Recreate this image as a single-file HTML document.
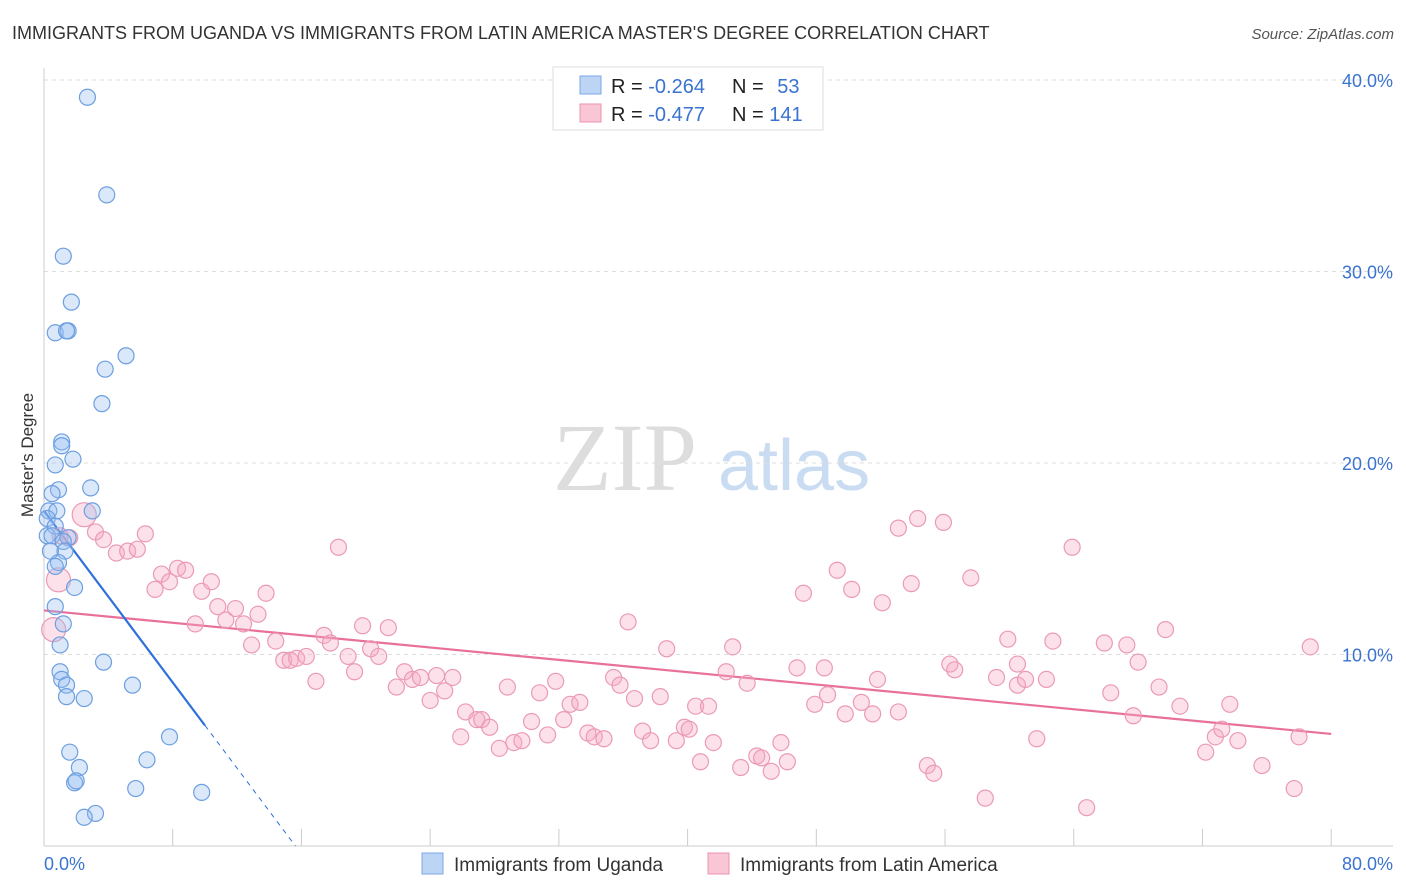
<!DOCTYPE html>
<html><head><meta charset="utf-8"><style>
body{margin:0;background:#fff;font-family:"Liberation Sans",sans-serif;}
svg{display:block}
</style></head><body>
<svg id="chart" width="1406" height="892">
<text x="12" y="39" font-size="18" fill="#333">IMMIGRANTS FROM UGANDA VS IMMIGRANTS FROM LATIN AMERICA MASTER'S DEGREE CORRELATION CHART</text>
<text x="1394" y="39" font-size="15" fill="#555" font-style="italic" text-anchor="end">Source: ZipAtlas.com</text>
<g>
<text x="553" y="490" font-size="96" fill="#ddd" font-family="Liberation Serif,serif">ZIP</text>
<text x="718" y="490" font-size="72" fill="#c9dcf2">atlas</text>
</g>
<text transform="translate(33,455) rotate(-90)" font-size="17" fill="#333" text-anchor="middle">Master's Degree</text>
<g id="grid"></g><g id="ticks"></g><g id="lines"></g><g id="pts"></g>
<g>
<rect x="553" y="67" width="270" height="63" fill="#fff" stroke="#ddd"/>
<rect x="580" y="76" width="21" height="18" fill="#bcd5f5" stroke="#7aa8e6"/>
<rect x="580" y="104" width="21" height="18" fill="#f9c6d6" stroke="#ec92b2"/>
<text x="611" y="93" font-size="20" fill="#222">R = <tspan fill="#3a73d0">-0.264</tspan></text>
<text x="732" y="93" font-size="20" fill="#222">N = <tspan fill="#3a73d0" dx="8">53</tspan></text>
<text x="611" y="121" font-size="20" fill="#222">R = <tspan fill="#3a73d0">-0.477</tspan></text>
<text x="732" y="121" font-size="20" fill="#222">N = <tspan fill="#3a73d0">141</tspan></text>
</g>
<g>
<rect x="422" y="853" width="21" height="21" fill="#bcd5f5" stroke="#7aa8e6"/>
<text x="454" y="871" font-size="19" fill="#333">Immigrants from Uganda</text>
<rect x="708" y="853" width="21" height="21" fill="#f9c6d6" stroke="#ec92b2"/>
<text x="740" y="871" font-size="19" fill="#333">Immigrants from Latin America</text>
</g>
</svg>
<script>
const xTicks=[0,8,16,24,32,40,48,56,64,72,80];
const yTicks=[10,20,30,40];
const yTickLabels=["10.0%","20.0%","30.0%","40.0%"];
const xEndLabels=["0.0%","80.0%"];
const ugandaX=[2.7,3.9,1.2,1.7,0.7,1.5,1.4,5.1,3.8,3.6,1.1,1.1,1.8,0.7,0.9,2.9,0.5,0.3,0.8,3.0,0.2,0.7,0.2,1.5,0.5,1.2,1.3,0.4,0.9,0.7,1.9,0.7,1.2,1.0,3.7,1.0,1.1,1.4,1.4,2.5,5.5,7.8,6.4,1.6,2.2,1.9,2.0,5.7,9.8,3.2,2.5];
const ugandaY=[39.1,34.0,30.8,28.4,26.8,26.9,26.9,25.6,24.9,23.1,21.1,20.9,20.2,19.9,18.6,18.7,18.4,17.5,17.5,17.5,17.1,16.7,16.2,16.1,16.2,15.9,15.4,15.4,14.8,14.6,13.5,12.5,11.6,10.5,9.6,9.1,8.7,8.4,7.8,7.7,8.4,5.7,4.5,4.9,4.1,3.3,3.4,3.0,2.8,1.7,1.5];
const latamX=[0.6,0.9,2.5,3.2,1.6,1.0,3.7,4.5,5.2,5.8,6.3,6.9,7.3,7.8,8.3,8.8,9.4,9.8,10.4,10.8,11.3,11.9,12.4,12.9,13.3,13.8,14.4,14.9,15.3,15.7,16.3,16.9,17.4,17.8,18.3,18.9,19.3,19.8,20.3,20.8,21.4,21.9,22.4,22.9,23.4,24.0,24.4,24.9,25.4,25.9,26.2,26.9,27.2,27.7,28.3,28.8,29.2,29.7,30.3,30.8,31.3,31.8,32.3,32.7,33.3,33.8,34.2,34.8,35.4,35.8,36.3,36.7,37.2,37.7,38.3,38.7,39.3,39.8,40.1,40.5,40.8,41.3,41.6,42.8,42.4,43.3,43.7,44.3,44.6,45.2,45.8,46.2,46.8,47.2,47.9,48.5,48.7,49.3,49.8,50.2,50.8,51.5,51.8,52.1,53.1,53.1,53.9,54.3,54.9,55.3,55.9,56.3,56.6,57.6,58.5,59.2,59.9,60.5,60.5,61.0,61.7,62.3,62.7,63.9,64.8,65.9,66.3,67.3,68.0,67.7,69.3,69.7,70.6,72.2,72.8,73.2,73.7,74.2,75.7,77.7,78.0,78.7];
const latamY=[11.3,13.9,17.3,16.4,16.1,16.2,16.0,15.3,15.4,15.5,16.3,13.4,14.2,13.8,14.5,14.4,11.6,13.3,13.8,12.5,11.8,12.4,11.6,10.5,12.1,13.2,10.7,9.7,9.7,9.8,9.9,8.6,11.0,10.6,15.6,9.9,9.1,11.5,10.3,9.9,11.4,8.3,9.1,8.7,8.8,7.6,8.9,8.1,8.8,5.7,7.0,6.6,6.6,6.2,5.1,8.3,5.4,5.5,6.5,8.0,5.8,8.6,6.6,7.4,7.5,5.9,5.7,5.6,8.8,8.4,11.7,7.7,6.0,5.5,7.8,10.3,5.5,6.2,6.1,7.3,4.4,7.3,5.4,10.4,9.1,4.1,8.5,4.7,4.6,3.9,5.4,4.4,9.3,13.2,7.4,9.3,7.9,14.4,6.9,13.4,7.5,6.9,8.7,12.7,7.0,16.6,13.7,17.1,4.2,3.8,16.9,9.5,9.2,14.0,2.5,8.8,10.8,9.5,8.4,8.7,5.6,8.7,10.7,15.6,2.0,10.6,8.0,10.5,9.6,6.8,8.3,11.3,7.3,4.9,5.7,6.1,7.4,5.5,4.2,3.0,5.7,10.4];
const latamBig=[0,1,2];
const ugandaTrend=[17.5,-1.12];
const latamTrend=[12.3,-0.0806];
const ugandaSolidEnd=10;

const NS="http://www.w3.org/2000/svg";
const X=v=>44+v*16.09, Y=v=>846-v*19.15;
function mk(tag,parent,attrs){const e=document.createElementNS(NS,tag);for(const k in attrs)e.setAttribute(k,attrs[k]);document.getElementById(parent).appendChild(e);return e;}
yTicks.forEach((t,i)=>{
 const g=mk('line','grid',{x1:44,x2:1393,y1:Y(t),y2:Y(t),stroke:'#ddd','stroke-dasharray':'4,4'});
 
 
 const l=mk('text','ticks',{x:1393,y:Y(t)+7,'font-size':18,fill:'#3a73d0','text-anchor':'end'});l.textContent=yTickLabels[i];
 
 
});
const ax=mk('line','grid',{x1:44,x2:1393,y1:846,y2:846,stroke:'#ccc'});


const ay=mk('line','grid',{x1:44,x2:44,y1:68,y2:846,stroke:'#ccc'});


xTicks.forEach(t=>{const l=mk('line','grid',{x1:X(t),x2:X(t),y1:829,y2:846,stroke:'#ccc'});
 
 });
const xl0=mk('text','ticks',{x:44,y:870,'font-size':18,fill:'#3a73d0'});xl0.textContent=xEndLabels[0];


const xl1=mk('text','ticks',{x:1393,y:870,'font-size':18,fill:'#3a73d0','text-anchor':'end'});xl1.textContent=xEndLabels[1];


latamX.forEach((v,i)=>{const big=latamBig.includes(i);
 const c=mk('circle','pts',{cx:X(v),cy:Y(latamY[i]),r:big?12:8,fill:'rgba(245,170,195,0.35)',stroke:'#eb9ab6','stroke-width':1.2});
 
 });
ugandaX.forEach((v,i)=>{
 const c=mk('circle','pts',{cx:X(v),cy:Y(ugandaY[i]),r:8,fill:'rgba(150,190,240,0.35)',stroke:'#6d9fe0','stroke-width':1.2});
 
 });
const f=(t,x)=>t[0]+t[1]*x;
const lt=mk('line','lines',{x1:X(0),y1:Y(f(latamTrend,0)),x2:X(80),y2:Y(f(latamTrend,80)),stroke:'#e8709a','stroke-width':2.2});


const ut=mk('line','lines',{x1:X(0),y1:Y(f(ugandaTrend,0)),x2:X(ugandaSolidEnd),y2:Y(f(ugandaTrend,ugandaSolidEnd)),stroke:'#2f6fd8','stroke-width':2.2});


const xz=-ugandaTrend[0]/ugandaTrend[1];
const ud=mk('line','lines',{x1:X(ugandaSolidEnd),y1:Y(f(ugandaTrend,ugandaSolidEnd)),x2:X(xz),y2:Y(0),stroke:'#2f6fd8','stroke-width':1,'stroke-dasharray':'5,5'});


</script>
</body></html>
